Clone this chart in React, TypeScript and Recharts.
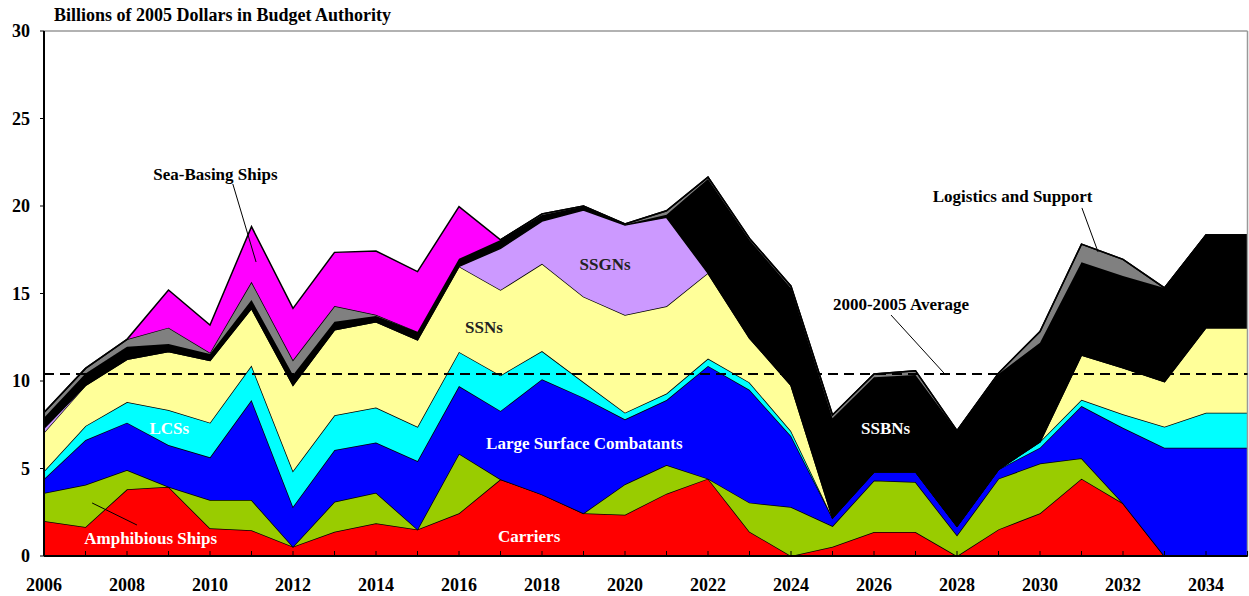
import React from "react";
import {
  AreaChart,
  Area,
  XAxis,
  YAxis,
  ReferenceLine,
  ReferenceDot,
} from "recharts";

// fiscal years on the x axis
const years = [
  2006, 2007, 2008, 2009, 2010, 2011, 2012, 2013, 2014, 2015, 2016, 2017,
  2018, 2019, 2020, 2021, 2022, 2023, 2024, 2025, 2026, 2027, 2028, 2029,
  2030, 2031, 2032, 2033, 2034, 2035,
];

// billions of 2005 dollars, stacked bottom to top
const carriers = [
  2.0, 1.66, 3.81, 3.96, 1.58, 1.47, 0.53, 1.39, 1.87, 1.52, 2.44, 4.38, 3.52,
  2.44, 2.36, 3.56, 4.42, 1.39, 0, 0.53, 1.37, 1.37, 0, 1.52, 2.44, 4.42, 3.01,
  0, 0, 0,
];
const amphibious = [
  1.6, 2.41, 1.1, 0, 1.62, 1.73, 0, 1.71, 1.75, 0, 3.41, 0, 0, 0, 1.74, 1.64,
  0, 1.66, 2.8, 1.18, 2.95, 2.86, 1.18, 2.9, 2.84, 1.16, 0, 0, 0, 0,
];
const largeSurface = [
  0.8, 2.56, 2.71, 2.38, 2.44, 5.71, 2.29, 2.96, 2.86, 3.91, 3.86, 3.91, 6.58,
  6.61, 3.71, 3.71, 6.44, 6.45, 4.06, 0.48, 0.5, 0.59, 0.53, 0.53, 0.91, 2.99,
  4.32, 6.19, 6.19, 6.19,
];
const lcs = [
  0.45, 0.8, 1.18, 2.0, 1.98, 1.97, 2.04, 1.98, 2.0, 1.96, 1.95, 2.03, 1.61,
  0.89, 0.38, 0.37, 0.42, 0.42, 0.28, 0, 0, 0, 0, 0, 0.34, 0.36, 0.77, 1.2,
  2.0, 2.0,
];
const ssn = [
  2.2, 2.32, 2.44, 3.34, 3.56, 3.27, 4.91, 4.89, 4.9, 4.97, 4.89, 4.88, 4.99,
  4.88, 5.58, 4.99, 4.89, 2.54, 2.62, 0, 0, 0, 0, 0, 0, 2.56, 2.65, 2.57, 4.86,
  4.86,
];
const ssgn = [
  0.25, 0, 0, 0, 0, 0, 0, 0, 0, 0, 0, 2.38, 2.44, 4.95, 5.14, 5.08, 0, 0, 0, 0,
  0, 0, 0, 0, 0, 0, 0, 0, 0, 0,
];
const ssbn = [
  0.6, 0.68, 0.72, 0.43, 0.36, 0.48, 0.57, 0.46, 0.34, 0.46, 0.43, 0.48, 0.35,
  0.2, 0.04, 0.15, 5.38, 5.6, 5.54, 5.68, 5.39, 5.52, 5.43, 5.45, 5.65, 5.3,
  5.25, 5.36, 5.29, 5.29,
];
const logistics = [
  0.3, 0.29, 0.42, 0.94, 0.08, 1.04, 0.86, 0.9, 0.06, 0, 0, 0, 0.06, 0.03,
  0.02, 0.23, 0.1, 0.09, 0.12, 0.19, 0.19, 0.25, 0.02, 0.05, 0.65, 1.03, 0.95,
  0, 0, 0,
];
const seaBasing = [
  0, 0, 0, 2.15, 1.58, 3.15, 2.95, 3.06, 3.65, 3.43, 2.98, 0, 0, 0, 0, 0, 0, 0,
  0, 0, 0, 0, 0, 0, 0, 0, 0, 0, 0, 0,
];

const average2000to2005 = 10.4;
const yTicks = [0, 5, 10, 15, 20, 25, 30];

const series = [
  { key: "carriers", values: carriers, color: "#FF0000" },
  { key: "amphibious", values: amphibious, color: "#99CC00" },
  { key: "largeSurface", values: largeSurface, color: "#0000FF" },
  { key: "lcs", values: lcs, color: "#00FFFF" },
  { key: "ssn", values: ssn, color: "#FFFF99" },
  { key: "ssgn", values: ssgn, color: "#CC99FF" },
  { key: "ssbn", values: ssbn, color: "#000000" },
  { key: "logistics", values: logistics, color: "#808080" },
  { key: "seaBasing", values: seaBasing, color: "#FF00FF" },
];

const data = years.map((year, i) => {
  const row: Record<string, number> = { year };
  series.forEach((s) => {
    row[s.key] = s.values[i];
  });
  return row;
});

// in-chart annotations, placed in data coordinates
const labels = [
  { text: "Sea-Basing Ships", x: 2010.13, y: 21.83, color: "#000" },
  { text: "Logistics and Support", x: 2029.34, y: 20.57, color: "#000" },
  { text: "2000-2005 Average", x: 2026.65, y: 14.4, color: "#000" },
  { text: "SSGNs", x: 2019.52, y: 16.69, color: "#222" },
  { text: "SSNs", x: 2016.6, y: 13.09, color: "#222" },
  { text: "LCSs", x: 2009.02, y: 7.33, color: "#fff" },
  { text: "Large Surface Combatants", x: 2019.02, y: 6.47, color: "#fff" },
  { text: "SSBNs", x: 2026.28, y: 7.33, color: "#fff" },
  { text: "Carriers", x: 2017.69, y: 1.14, color: "#fff" },
  { text: "Amphibious Ships", x: 2008.57, y: 1.05, color: "#fff" },
];

const leaders = [
  [{ x: 2010.55, y: 21.26 }, { x: 2011.11, y: 16.8 }],
  [{ x: 2031.01, y: 19.89 }, { x: 2031.4, y: 17.37 }],
  [{ x: 2026.41, y: 13.77 }, { x: 2027.73, y: 10.34 }],
  [{ x: 2007.16, y: 3.03 }, { x: 2008.24, y: 1.77 }],
];

const FONT = "'Liberation Serif', 'Times New Roman', serif";

function YearTick(props: any) {
  const { x, y, payload } = props;
  const yr = payload.value as number;
  return (
    <g>
      <line x1={x} y1={y} x2={x} y2={y - 5} stroke="#000" strokeWidth={1} />
      {yr % 2 === 0 && (
        <text
          x={x}
          y={y + 35}
          textAnchor="middle"
          fontFamily={FONT}
          fontWeight="bold"
          fontSize={18}
          fill="#000"
        >
          {yr}
        </text>
      )}
    </g>
  );
}

export default function App() {
  return (
    <div
      style={{
        position: "absolute",
        left: 0,
        top: 0,
        width: 1249,
        height: 596,
        background: "#fff",
      }}
    >
      <div
        style={{
          position: "absolute",
          left: 54,
          top: 5,
          fontFamily: FONT,
          fontWeight: "bold",
          fontSize: 18,
          color: "#000",
          whiteSpace: "nowrap",
        }}
      >
        Billions of 2005 Dollars in Budget Authority
      </div>
      <AreaChart
        width={1249}
        height={596}
        data={data}
        margin={{ top: 31, right: 1.5, left: 4, bottom: 10 }}
      >
        <XAxis
          dataKey="year"
          type="number"
          domain={[2006, 2035]}
          ticks={years}
          interval={0}
          tick={<YearTick />}
          tickLine={false}
          tickSize={0}
          tickMargin={0}
          height={30}
          axisLine={{ stroke: "#000", strokeWidth: 2 }}
        />
        <YAxis
          domain={[0, 30]}
          ticks={yTicks}
          interval={0}
          width={40}
          tickSize={4}
          tickMargin={10}
          tickLine={{ stroke: "#000" }}
          axisLine={{ stroke: "#000", strokeWidth: 2 }}
          tick={{
            fontFamily: FONT,
            fontWeight: "bold",
            fontSize: 18,
            fill: "#000",
          }}
        />
        {series.map((s) => (
          <Area
            key={s.key}
            type="linear"
            dataKey={s.key}
            stackId="1"
            stroke="#000"
            strokeWidth={1.5}
            fill={s.color}
            fillOpacity={1}
            dot={false}
            activeDot={false}
            isAnimationActive={false}
          />
        ))}
        <ReferenceLine y={30} stroke="#999" strokeWidth={1.5} />
        <ReferenceLine x={2035} stroke="#999" strokeWidth={1.5} />
        <ReferenceLine
          y={average2000to2005}
          stroke="#000"
          strokeWidth={2}
          strokeDasharray="10 6"
        />
        {leaders.map((seg, i) => (
          <ReferenceLine
            key={`leader-${i}`}
            segment={seg}
            stroke="#000"
            strokeWidth={1}
          />
        ))}
        {labels.map((l) => (
          <ReferenceDot
            key={l.text}
            x={l.x}
            y={l.y}
            r={0}
            stroke="none"
            fill="none"
            label={{
              value: l.text,
              position: "center",
              fill: l.color,
              fontFamily: FONT,
              fontWeight: "bold",
              fontSize: 17,
            }}
          />
        ))}
      </AreaChart>
    </div>
  );
}
